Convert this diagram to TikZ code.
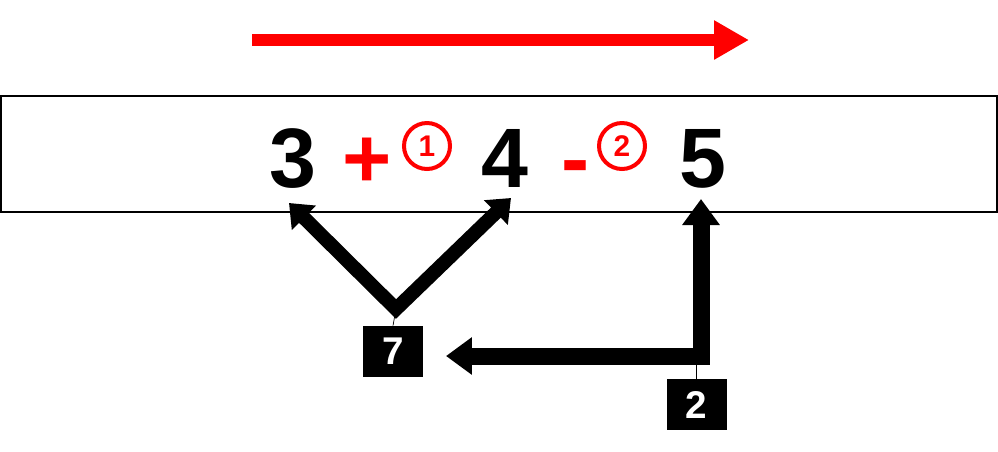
\documentclass[tikz,border=0pt]{standalone}
\usepackage{fontspec}
\setmainfont{Liberation Sans}
\usetikzlibrary{arrows.meta}

\begin{document}
\begin{tikzpicture}[x=0.02cm, y=-0.02cm, line join=miter, font=\bfseries]
	\tikzset{
		num/.style={inner sep=0pt, anchor=base, font=\bfseries\fontsize{48}{48}\selectfont},
		op/.style={num, text=red},
		circ/.style={circle, draw=red, text=red, line width=0.08cm, minimum size=0.92cm, inner sep=0pt, font=\bfseries\fontsize{17}{17}\selectfont},
		tag/.style={fill=black, text=white, minimum width=1.2cm, minimum height=1.02cm, inner sep=0pt, font=\bfseries\fontsize{22}{22}\selectfont},
		fat/.style={line width=0.34cm, {Triangle[length=0.52cm, width=0.72cm]}-{Triangle[length=0.52cm, width=0.72cm]}},
		vee/.style={line width=0.28cm, {Triangle[length=0.42cm, width=0.66cm]}-{Triangle[length=0.42cm, width=0.66cm]}}
	}
	\useasboundingbox (0,0) rectangle (998,451);

	% direction of reading
	\coordinate (dirL) at (252,40);
	\coordinate (dirR) at (749,40);
	\draw[red, line width=0.24cm, -{Triangle[length=0.7cm, width=0.74cm]}] (dirL) -- (dirR);

	\node[draw, line width=0.04cm, minimum width=19.92cm, minimum height=2.32cm] (row) at (499,154) {};

	\node[num] at (293,187) (three) {3};
	\node[op]  at (367,187) (plus)  {+};
	\node[circ] at (427,146) (c1) {1};
	\node[num] at (505,187) (four)  {4};
	\node[op]  at (576,187) (minus) {-};
	\node[circ] at (622,146) (c2) {2};
	\node[num] at (703,187) (five)  {5};

	\node[tag] at (393,351.5) (seven) {7};
	\node[tag] at (696.5,404.5) (two) {2};

	\coordinate (tip3) at (289,203);
	\coordinate (tip4) at (511,198);
	\coordinate (vtx)  at (396,309);
	\coordinate (tip5) at (701,199);
	\coordinate (tipL) at (446,356);

	\draw (vtx) -- (seven.north);
	\draw[vee] (tip3) -- (vtx) -- (tip4);
	\draw (two.north) -- (two.north |- tipL);
	\draw[fat] (tip5) |- (tipL);
\end{tikzpicture}
\end{document}
